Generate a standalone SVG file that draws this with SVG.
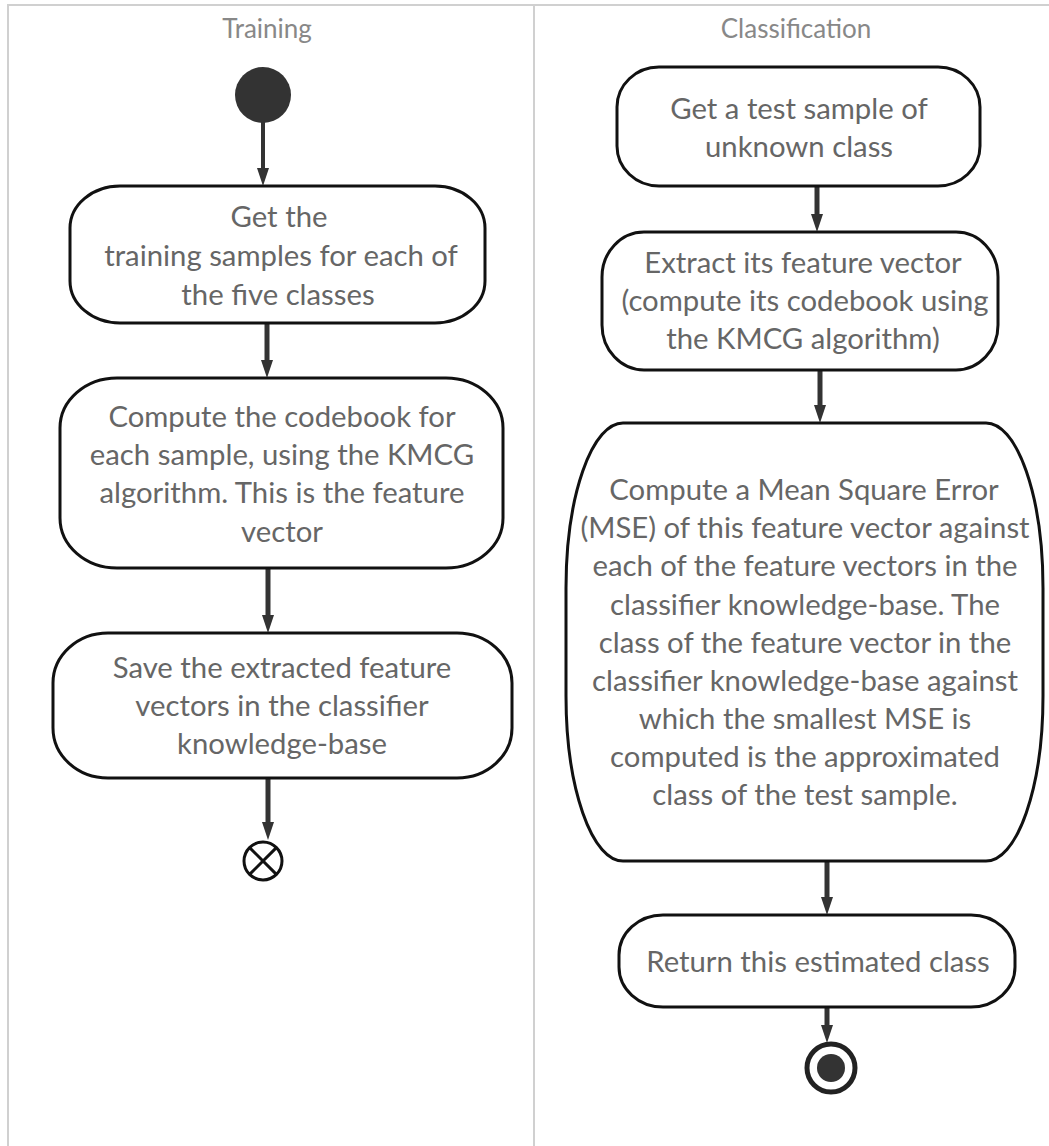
<svg xmlns="http://www.w3.org/2000/svg" width="1049" height="1146" viewBox="0 0 1049 1146">
<defs>
<style>
.lane{stroke:#d0d0d0;stroke-width:2;fill:none}
.title{font-family:Lato,"Open Sans","Liberation Sans",sans-serif;font-size:26px;fill:#888;text-anchor:middle}
.box{fill:#fff;stroke:#111;stroke-width:3}
.lbl{font-family:Lato,"Open Sans","Liberation Sans",sans-serif;font-size:29.3px;fill:#666;text-anchor:middle}
.flow{stroke:#333;stroke-width:5;fill:none;marker-end:url(#ah)}
</style>
<marker id="ah" markerUnits="userSpaceOnUse" markerWidth="18" markerHeight="12" viewBox="0 0 18 12" refX="6" refY="6" orient="auto">
<path d="M0,0 L18,6 L0,12 Z" fill="#333"/>
</marker>
</defs>
<rect width="1049" height="1146" fill="#fff"/>
<g id="lanes">
<path class="lane" d="M8,1146 V5 H1049 M534,5 V1146"/>
<text class="title" x="267" y="38">Training</text>
<text class="title" x="796" y="38">Classification</text>
</g>
<g id="connectors">
<path class="flow" style="stroke-width:4" d="M263,122 V174"/>
<path class="flow" d="M267,323 V366"/>
<path class="flow" d="M268,568 V621"/>
<path class="flow" d="M268,778 V828"/>
<path class="flow" d="M817,186 V220"/>
<path class="flow" d="M820,370 V411"/>
<path class="flow" d="M827,861 V903"/>
<path class="flow" d="M827,1007 V1031"/>
</g>
<g id="start">
<circle cx="263" cy="95" r="28" fill="#333"/>
</g>
<g id="n1">
<rect class="box" x="70" y="186" width="415" height="137" rx="50" ry="42"/>
<text class="lbl"><tspan x="279" y="227">Get the</tspan><tspan x="281" y="266">training samples for each of</tspan><tspan x="278" y="305">the five classes</tspan></text>
</g>
<g id="n2">
<rect class="box" x="60" y="378" width="443" height="190" rx="57" ry="50"/>
<text class="lbl"><tspan x="282" y="427">Compute the codebook for</tspan><tspan x="282" y="465">each sample, using the KMCG</tspan><tspan x="282" y="503">algorithm. This is the feature</tspan><tspan x="282" y="542">vector</tspan></text>
</g>
<g id="n3">
<rect class="box" x="53" y="633" width="459" height="145" rx="55" ry="50"/>
<text class="lbl"><tspan x="282" y="678">Save the extracted feature</tspan><tspan x="282" y="716">vectors in the classifier</tspan><tspan x="282" y="754">knowledge-base</tspan></text>
</g>
<g id="end-flow">
<circle cx="263" cy="861" r="19" fill="#fff" stroke="#111" stroke-width="3"/>
<path d="M249.6,847.6 L276.4,874.4 M276.4,847.6 L249.6,874.4" stroke="#111" stroke-width="3"/>
</g>
<g id="r1">
<rect class="box" x="617" y="67" width="363" height="119" rx="42" ry="40"/>
<text class="lbl"><tspan x="799" y="119">Get a test sample of</tspan><tspan x="799" y="157">unknown class</tspan></text>
</g>
<g id="r2">
<rect class="box" x="602" y="232" width="396" height="138" rx="42" ry="45"/>
<text class="lbl"><tspan x="803" y="273">Extract its feature vector</tspan><tspan x="805" y="311">(compute its codebook using</tspan><tspan x="803" y="349">the KMCG algorithm)</tspan></text>
</g>
<g id="r3">
<path class="box" d="M623,423 H986 A57,165 0 0 1 1043,588 V696 A57,165 0 0 1 986,861 H623 A57,165 0 0 1 566,696 V588 A57,165 0 0 1 623,423 Z"/>
<text class="lbl"><tspan x="804" y="500">Compute a Mean Square Error</tspan><tspan x="805" y="538">(MSE) of this feature vector against</tspan><tspan x="805" y="576">each of the feature vectors in the</tspan><tspan x="805" y="615">classifier knowledge-base. The</tspan><tspan x="805" y="653">class of the feature vector in the</tspan><tspan x="805" y="691">classifier knowledge-base against</tspan><tspan x="805" y="729">which the smallest MSE is</tspan><tspan x="805" y="767">computed is the approximated</tspan><tspan x="805" y="805">class of the test sample.</tspan></text>
</g>
<g id="r4">
<rect class="box" x="619" y="915" width="396" height="92" rx="44" ry="40"/>
<text class="lbl"><tspan x="818" y="972">Return this estimated class</tspan></text>
</g>
<g id="end">
<circle cx="831" cy="1068" r="24" fill="#fff" stroke="#222" stroke-width="5"/>
<circle cx="831" cy="1068" r="14" fill="#333"/>
</g>
</svg>
